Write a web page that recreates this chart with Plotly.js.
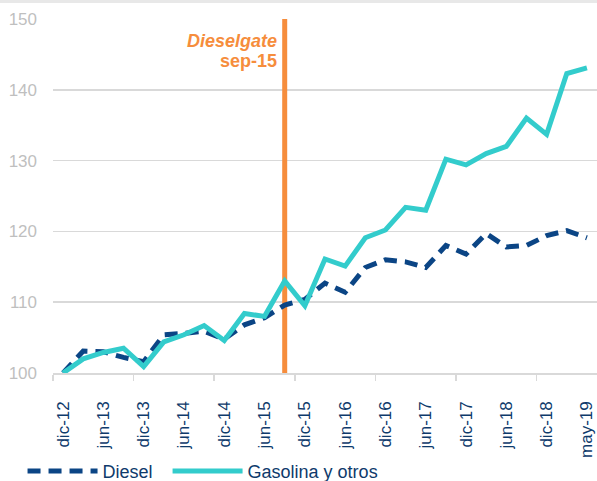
<!DOCTYPE html>
<html>
<head>
<meta charset="utf-8">
<script src="https://cdn.plot.ly/plotly-3.0.1.min.js"></script>
<style>
  html, body { margin: 0; padding: 0; background: #ffffff; overflow: hidden; width: 597px; height: 481px; }
  #topbar { position: absolute; left: 0; top: 0; height: 3px; background: #e8e8e8; width: 597px; z-index: 10; }
  #chart { position: absolute; left: 0; top: 0; width: 597px; height: 490px; }
</style>
</head>
<body>
<div id="chart"></div>
<div id="topbar"></div>
<script>
// Categories (quarterly, last one May-19)
const categories = ["dic-12","mar-13","jun-13","sep-13","dic-13","mar-14","jun-14","sep-14","dic-14",
  "mar-15","jun-15","sep-15","dic-15","mar-16","jun-16","sep-16","dic-16","mar-17","jun-17",
  "sep-17","dic-17","mar-18","jun-18","sep-18","dic-18","mar-19","may-19"];

const diesel = [100, 103.1, 103.0, 102.2, 101.6, 105.4, 105.6, 105.9, 104.8, 106.8, 107.8, 109.6,
  110.4, 112.7, 111.4, 114.9, 116.0, 115.7, 114.9, 118.0, 116.8, 119.7, 117.8, 118.0, 119.4, 120.1, 119.1];

const gasolina = [100, 102.0, 102.9, 103.5, 100.9, 104.4, 105.4, 106.7, 104.6, 108.4, 108.0, 113.0,
  109.5, 116.1, 115.1, 119.1, 120.2, 123.4, 123.0, 130.2, 129.4, 131.0, 132.0, 136.0, 133.7, 142.3, 143.1];

// Labelled ticks (every second category)
const tickLabels = ["dic-12","jun-13","dic-13","jun-14","dic-14","jun-15","dic-15","jun-16",
  "dic-16","jun-17","dic-17","jun-18","dic-18","may-19"];

const seriesNames = ["Diesel", "Gasolina y otros"];

const eventCategory = "sep-15";
const eventLabel = "Dieselgate";
const yRange = [100, 150];
const yTicks = [100, 110, 120, 130, 140, 150];

const xIdx = categories.map((c, i) => i);
const tickIdx = tickLabels.map(t => categories.indexOf(t));
const eventIdx = categories.indexOf(eventCategory);

const FONT = "Liberation Sans, Arial, sans-serif";
const NAVY = "#0E3A6B";
const ORANGE = "#F68D3C";

const traces = [
  {
    x: [eventIdx, eventIdx], y: yRange, mode: "lines",
    line: { color: ORANGE, width: 5 }, showlegend: false, hoverinfo: "skip"
  },
  {
    x: xIdx, y: diesel, name: seriesNames[0] + "&nbsp;&nbsp;", mode: "lines",
    line: { color: "#0B4585", width: 5, dash: "13px,8px" }
  },
  {
    x: xIdx, y: gasolina, name: seriesNames[1], mode: "lines",
    line: { color: "#33CCCC", width: 5 }
  }
];

const layout = {
  width: 597, height: 490,
  margin: { l: 53, r: 0, t: 19, b: 117 },
  paper_bgcolor: "#ffffff", plot_bgcolor: "#ffffff",
  font: { family: FONT, size: 17, color: NAVY },
  showlegend: true,
  legend: {
    orientation: "h", x: -0.056, y: -0.278, xanchor: "left", yanchor: "middle",
    font: { family: FONT, size: 18, color: NAVY },
    itemwidth: 70, traceorder: "normal"
  },
  xaxis: {
    type: "linear", range: [-0.5, 26.5], fixedrange: true,
    tickmode: "array", tickvals: tickIdx, ticktext: tickLabels,
    tickangle: -90, ticks: "", ticklabelstandoff: 20,
    tickfont: { family: FONT, size: 17, color: NAVY },
    showgrid: false, zeroline: false,
    showline: true, linecolor: "#d9d9d9", linewidth: 1.5,
    minor: { ticks: "outside", ticklen: 6, tickwidth: 1.5, tickcolor: "#d9d9d9",
             tick0: -0.5, dtick: 4, showgrid: false }
  },
  yaxis: {
    range: yRange, fixedrange: true,
    tickmode: "array", tickvals: yTicks,
    ticks: "", ticklabelstandoff: 15,
    tickfont: { family: FONT, size: 17, color: "#bfbfbf" },
    showgrid: true, gridcolor: "#d9d9d9", gridwidth: 1.5,
    zeroline: false, showline: false
  },
  annotations: [
    {
      x: eventIdx, y: 1, xref: "x", yref: "paper", xanchor: "right", yanchor: "top",
      xshift: -6, yshift: -10, showarrow: false,
      text: "<b><i>" + eventLabel + "</i></b>",
      font: { family: FONT, size: 18, color: ORANGE }
    },
    {
      x: eventIdx, y: 1, xref: "x", yref: "paper", xanchor: "right", yanchor: "top",
      xshift: -6, yshift: -30, showarrow: false,
      text: "<b>" + eventCategory + "</b>",
      font: { family: FONT, size: 18, color: ORANGE }
    }
  ]
};

Plotly.newPlot("chart", traces, layout, { displayModeBar: false, staticPlot: true });
</script>
</body>
</html>
